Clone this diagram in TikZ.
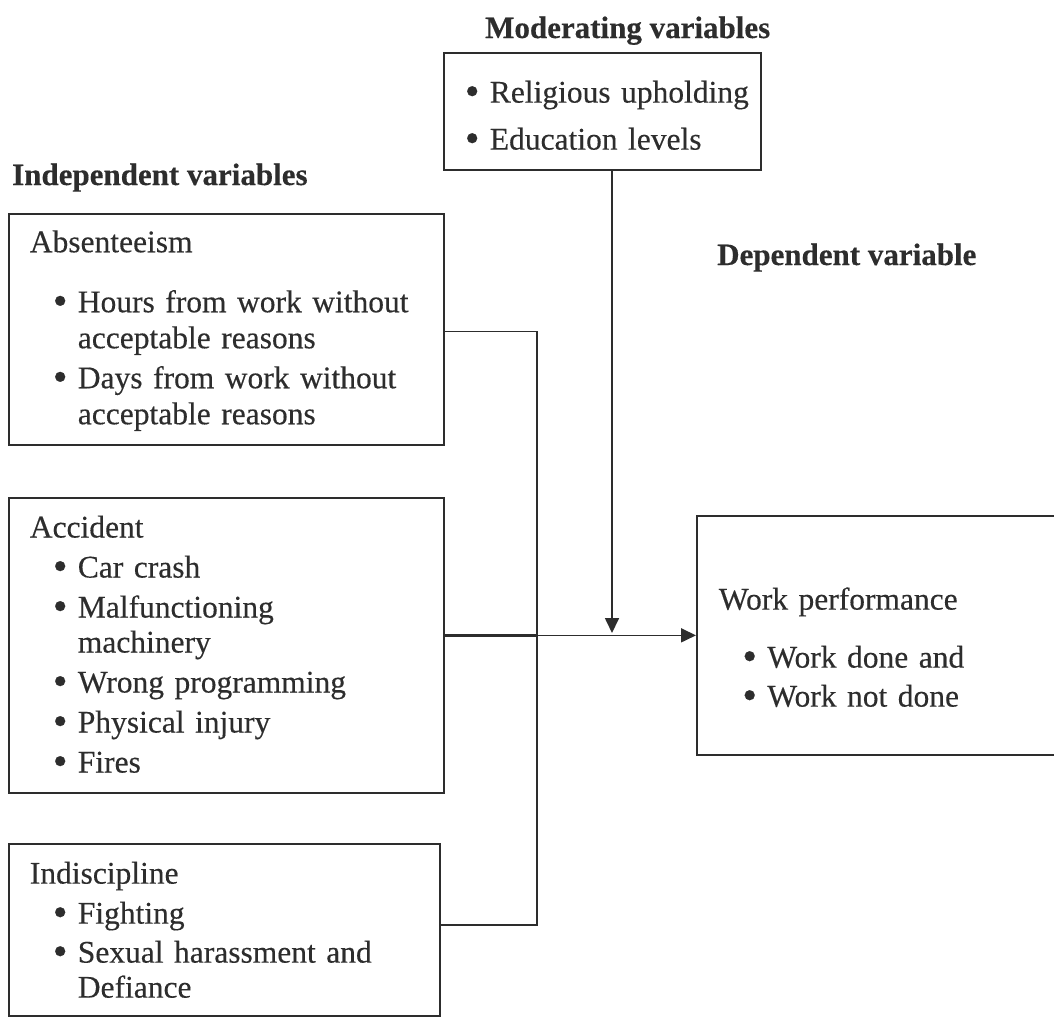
\documentclass[tikz,border=0pt]{standalone}
\usepackage{fontspec}
\setmainfont{Liberation Serif}[FakeBold=0.3]
\usetikzlibrary{arrows.meta}
\setlength{\parindent}{0pt}
% 项目符号与续行缩进
\newcommand{\itm}[2]{\mbox{\hspace*{#1}\makebox[25pt][l]{\raisebox{-2.5pt}{\fontsize{42}{40}\selectfont\textbullet}}#2}}
\newcommand{\cont}{\hspace*{48pt}}

\begin{document}
\begin{tikzpicture}[x=1pt, y=-1pt, >={Triangle[length=15pt,width=14pt]},
		font=\fontsize{31.5}{35}\selectfont,
		varbox/.style={draw=inkgray, line width=1.7pt, text=inkgray, anchor=north west,
			align=left, inner xsep=21pt, inner ysep=0pt},
		heading/.style={font=\fontsize{31}{35}\selectfont\bfseries, text=inkgray,
			anchor=base west, inner sep=0pt},
		link/.style={draw=inkgray, line width=1.7pt}]
	\definecolor{inkgray}{RGB}{45,45,45}
	
	% 画布范围
	\useasboundingbox (0,0) rectangle (1054,1017);
	\fill[white] (0,0) rectangle (1054,1017);
	\clip (0,0) rectangle (1054,1017);
	
	% 标题
	\node[heading] (modtitle) at (485,38) {Moderating variables};
	\node[heading] (indtitle) at (12,185) {Independent variables};
	\node[heading] (deptitle) at (717,265) {Dependent variable};
	
	% 调节变量
	\node[varbox, minimum width=317pt, minimum height=117pt, text width=275pt] (mod) at (443,52)
	{\itm{0pt}{Religious upholding}\rule{0pt}{32pt}\\[12pt]
		\itm{0pt}{Education levels}};
	
	% 自变量
	\node[varbox, minimum width=435pt, minimum height=231pt, text width=393pt] (absent) at (8,213)
	{Absenteeism\rule{0pt}{24.5pt}\\[25pt]
		\itm{23pt}{Hours from work without}\\[1pt]
		\cont acceptable reasons\\[5pt]
		\itm{23pt}{Days from work without}\\[1pt]
		\cont acceptable reasons};
	
	\node[varbox, minimum width=435pt, minimum height=295pt, text width=393pt] (acc) at (8,497)
	{Accident\\[5pt]
		\itm{23pt}{Car crash}\\[5pt]
		\itm{23pt}{Malfunctioning}\\
		\cont machinery\\[5pt]
		\itm{23pt}{Wrong programming}\\[5pt]
		\itm{23pt}{Physical injury}\\[5pt]
		\itm{23pt}{Fires}};
	
	\node[varbox, minimum width=431pt, minimum height=172pt, text width=389pt] (indis) at (8,843)
	{Indiscipline\\[5pt]
		\itm{23pt}{Fighting}\\[4pt]
		\itm{23pt}{Sexual harassment and}\\
		\cont Defiance};
	
	% 因变量（右侧超出画布）
	\node[varbox, minimum width=420pt, minimum height=239pt, text width=376pt, inner xsep=22pt] (work) at (696,515)
	{Work performance\rule{0pt}{48pt}\\[23pt]
		\itm{23.5pt}{Work done and}\\[4pt]
		\itm{23.5pt}{Work not done}};
	
	% 连线
	\coordinate (bus) at (537,636);
	\coordinate (meet) at (612,633);
	\draw[link] ([yshift=-2pt]absent.east) -| (bus);
	\draw[link] ([yshift=5pt]indis.east) -| (bus);
	\draw[link, line width=2.5pt] (acc.east |- work.west) -- (bus |- work.west);
	\draw[link, ->] (bus |- work.west) -- (work.west);
	\draw[link, ->] (mod.south -| meet) -- (meet);
\end{tikzpicture}
\end{document}
